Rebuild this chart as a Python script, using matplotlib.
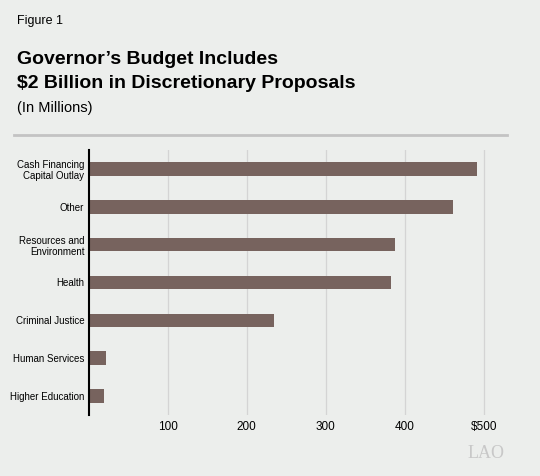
import matplotlib
matplotlib.use("Agg")
import matplotlib.pyplot as plt
from matplotlib.lines import Line2D

categories = [
    "Cash Financing\nCapital Outlay",
    "Other",
    "Resources and\nEnvironment",
    "Health",
    "Criminal Justice",
    "Human Services",
    "Higher Education",
]
amounts = [491, 460, 387, 382, 234, 22, 19]
tick_values = [100, 200, 300, 400, 500]
tick_labels = ["100", "200", "300", "400", "$500"]

BG = "#eceeec"
BAR = "#77635e"

plt.rcParams["font.family"] = ["Liberation Sans", "DejaVu Sans"]

fig = plt.figure(figsize=(5.4, 4.76), dpi=100, facecolor=BG)

# axes placed in figure fraction (540 x 476 px)
left, right = 88.5 / 540, 500 / 540
top, bottom = 1 - 150 / 476, 1 - 415 / 476
ax = fig.add_axes([left, bottom, right - left, top - bottom], facecolor=BG)

y = list(range(len(categories)))
ax.barh(y, amounts, height=0.36, color=BAR, zorder=3)

ax.set_xlim(0, 520)
ax.set_ylim(len(categories) - 0.5, -0.5)
ax.set_yticks(y)
ax.set_yticklabels(categories, fontsize=7, linespacing=1.15)
ax.set_xticks(tick_values)
ax.set_xticklabels(tick_labels, fontsize=8.5)
ax.tick_params(axis="both", length=0)
ax.tick_params(axis="y", pad=3)
ax.tick_params(axis="x", pad=4.5)

ax.grid(axis="x", color="#d4d4d4", linewidth=0.9, zorder=0)
for side in ["top", "right", "bottom"]:
    ax.spines[side].set_visible(False)
ax.spines["left"].set_color("black")
ax.spines["left"].set_linewidth(1.5)
ax.spines["left"].set_zorder(4)

# header text
fig.text(17 / 540, 1 - 21 / 476, "Figure 1", fontsize=9, va="center", ha="left")
fig.text(17 / 540, 1 - 59 / 476, "Governor\u2019s Budget Includes", fontsize=14,
         fontweight="bold", va="center", ha="left")
fig.text(17 / 540, 1 - 83 / 476, "$2 Billion in Discretionary Proposals", fontsize=14,
         fontweight="bold", va="center", ha="left")
fig.text(17 / 540, 1 - 108 / 476, "(In Millions)", fontsize=10.5, va="center", ha="left")

fig.add_artist(Line2D([14 / 540, 507 / 540], [1 - 135 / 476, 1 - 135 / 476],
                      transform=fig.transFigure, color="#c3c3c3", linewidth=2))

fig.text(505 / 540, 1 - 453 / 476, "LAO", fontsize=13, color="#c8c8c8",
         family="Liberation Serif", va="center", ha="right")

fig.savefig("out.png", dpi=100, facecolor=BG)
